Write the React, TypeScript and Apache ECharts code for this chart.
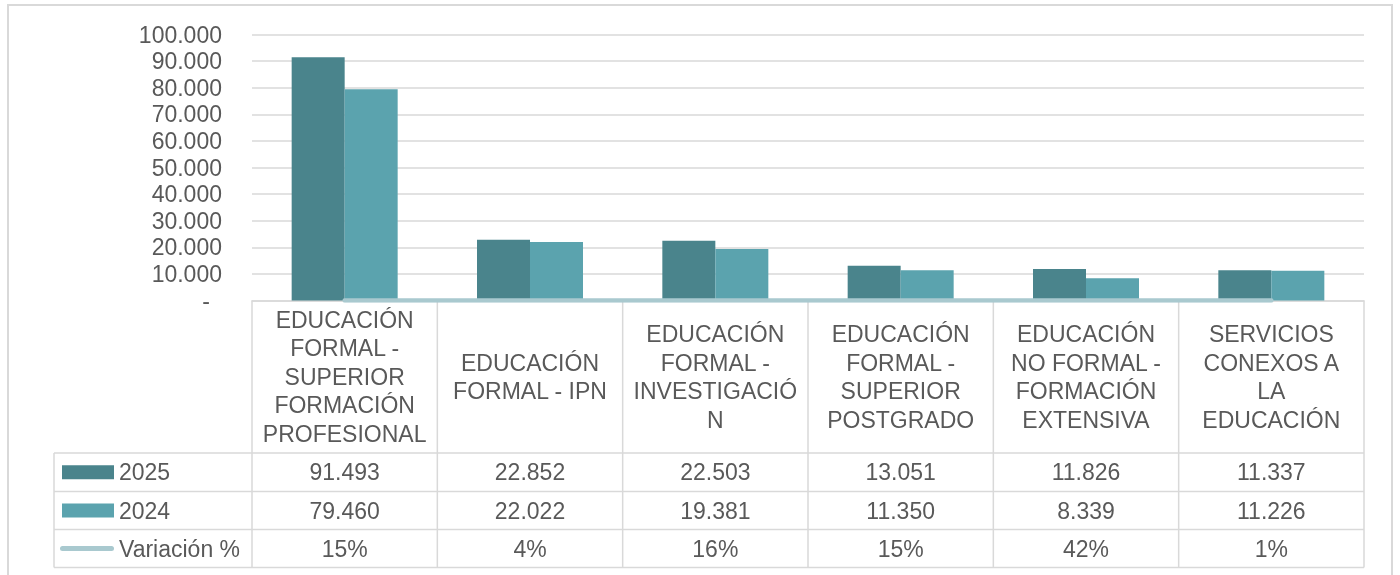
import React, { useEffect, useRef } from 'react';
import * as echarts from 'echarts';

const categories = [
  'EDUCACIÓN\nFORMAL -\nSUPERIOR\nFORMACIÓN\nPROFESIONAL',
  'EDUCACIÓN\nFORMAL - IPN',
  'EDUCACIÓN\nFORMAL -\nINVESTIGACIÓ\nN',
  'EDUCACIÓN\nFORMAL -\nSUPERIOR\nPOSTGRADO',
  'EDUCACIÓN\nNO FORMAL -\nFORMACIÓN\nEXTENSIVA',
  'SERVICIOS\nCONEXOS A\nLA\nEDUCACIÓN',
];
const values2025 = [91493, 22852, 22503, 13051, 11826, 11337];
const values2024 = [79460, 22022, 19381, 11350, 8339, 11226];
const variacionPct = [15, 4, 16, 15, 42, 1];
const seriesNames = ['2025', '2024', 'Variación %'];
const yMax = 100000;
const yInterval = 10000;

const FONT = '"Liberation Sans", Arial, sans-serif';
const TEXT = '#595959';
const BORDER = '#d9d9d9';
const C2025 = '#4a848c';
const C2024 = '#5ba3ae';
const CVAR = '#a9c9cf';

const fmt = (n: number) => String(n).replace(/\B(?=(\d{3})+(?!\d))/g, '.');

// layout
const GL = 252;
const GR = 1364;
const GT = 34.5;
const G0 = 300.5;
const ROW_Y = [453, 491.5, 529.5, 567.5];
const LEG_L = 54;
const FS = 23;

export default function App() {
  const ref = useRef<HTMLDivElement>(null);
  useEffect(() => {
    if (!ref.current) return;
    const chart = echarts.init(ref.current, undefined, { renderer: 'svg' });
    const colW = (GR - GL) / categories.length;
    const lines: any[] = [];
    const hl = (x1: number, x2: number, y: number) =>
      lines.push({ type: 'line', shape: { x1, y1: y, x2, y2: y }, style: { stroke: BORDER, lineWidth: 1.5 }, silent: true });
    const vl = (x: number, y1: number, y2: number) =>
      lines.push({ type: 'line', shape: { x1: x, y1, x2: x, y2 }, style: { stroke: BORDER, lineWidth: 1.5 }, silent: true });
    ROW_Y.forEach((y) => hl(LEG_L, GR, y));
    for (let i = 0; i <= categories.length; i++) vl(GL + colW * i, G0, ROW_Y[3]);
    vl(LEG_L, ROW_Y[0], ROW_Y[3]);
    lines.push({
      type: 'rect',
      shape: { x: 8, y: 5, width: 1384, height: 620 },
      style: { stroke: BORDER, lineWidth: 2, fill: 'none' },
      silent: true,
    });

    const rowAxis = (data: string[], center: number) => ({
      type: 'category',
      data,
      position: 'bottom',
      offset: center - G0,
      axisLine: { show: false },
      axisTick: { show: false },
      splitLine: { show: false },
      axisLabel: {
        interval: 0,
        margin: 0,
        verticalAlign: 'middle',
        fontSize: FS,
        fontFamily: FONT,
        color: TEXT,
      },
    });

    const legendAt = (name: string, center: number, icon: string, left: number, w: number, h: number) => ({
      data: [{ name, icon }],
      orient: 'horizontal',
      left,
      top: center - 12,
      padding: 0,
      itemWidth: w,
      itemHeight: h,
      itemGap: 5,
      selectedMode: false,
      textStyle: { fontSize: FS, fontFamily: FONT, color: TEXT, lineHeight: 24 },
    });
    const lineIcon = 'path://M2.5,0 L51.5,0 A2.5,2.5 0 0 1 51.5,5 L2.5,5 A2.5,2.5 0 0 1 2.5,0 Z';

    chart.setOption({
      animation: false,
      grid: { left: GL, right: 1400 - GR, top: GT, bottom: 575 - G0, containLabel: false },
      legend: [
        legendAt(seriesNames[0], (ROW_Y[0] + ROW_Y[1]) / 2, 'rect', 62, 52, 14),
        legendAt(seriesNames[1], (ROW_Y[1] + ROW_Y[2]) / 2, 'rect', 62, 52, 14),
        legendAt(seriesNames[2], (ROW_Y[2] + ROW_Y[3]) / 2, lineIcon, 60, 54, 5),
      ],
      xAxis: [
        {
          type: 'category',
          data: categories,
          axisLine: { show: true, lineStyle: { color: BORDER, width: 1.5 } },
          axisTick: { show: false },
          axisLabel: {
            interval: 0,
            margin: (G0 + ROW_Y[0]) / 2 - G0,
            verticalAlign: 'middle',
            fontSize: FS,
            lineHeight: 28.5,
            fontFamily: FONT,
            color: TEXT,
          },
        },
        rowAxis(values2025.map(fmt), (ROW_Y[0] + ROW_Y[1]) / 2),
        rowAxis(values2024.map(fmt), (ROW_Y[1] + ROW_Y[2]) / 2),
        rowAxis(variacionPct.map((v) => `${v}%`), (ROW_Y[2] + ROW_Y[3]) / 2),
      ],
      yAxis: {
        type: 'value',
        min: 0,
        max: yMax,
        interval: yInterval,
        axisLine: { show: false },
        axisTick: { show: false },
        splitLine: { lineStyle: { color: BORDER, width: 1.5 } },
        axisLabel: {
          margin: 30,
          fontSize: FS,
          fontFamily: FONT,
          color: TEXT,
          formatter: (v: number) => (v === 0 ? '{z|-}' : fmt(v)),
          rich: { z: { padding: [0, 12, 0, 0], fontSize: FS, fontFamily: FONT, color: TEXT } },
        },
      },
      series: [
        {
          name: seriesNames[0],
          type: 'bar',
          data: values2025,
          barWidth: 53,
          barGap: '0%',
          itemStyle: { color: C2025 },
        },
        {
          name: seriesNames[1],
          type: 'bar',
          data: values2024,
          barWidth: 53,
          barGap: '0%',
          itemStyle: { color: C2024 },
        },
        {
          name: seriesNames[2],
          type: 'line',
          data: variacionPct.map((v) => v / 100),
          symbol: 'none',
          z: 5,
          lineStyle: { color: CVAR, width: 4.5, cap: 'round' },
          itemStyle: { color: CVAR },
        },
      ],
      graphic: lines,
    });
    return () => chart.dispose();
  }, []);
  return <div ref={ref} style={{ position: 'fixed', left: 0, top: 0, width: 1400, height: 575 }} />;
}
